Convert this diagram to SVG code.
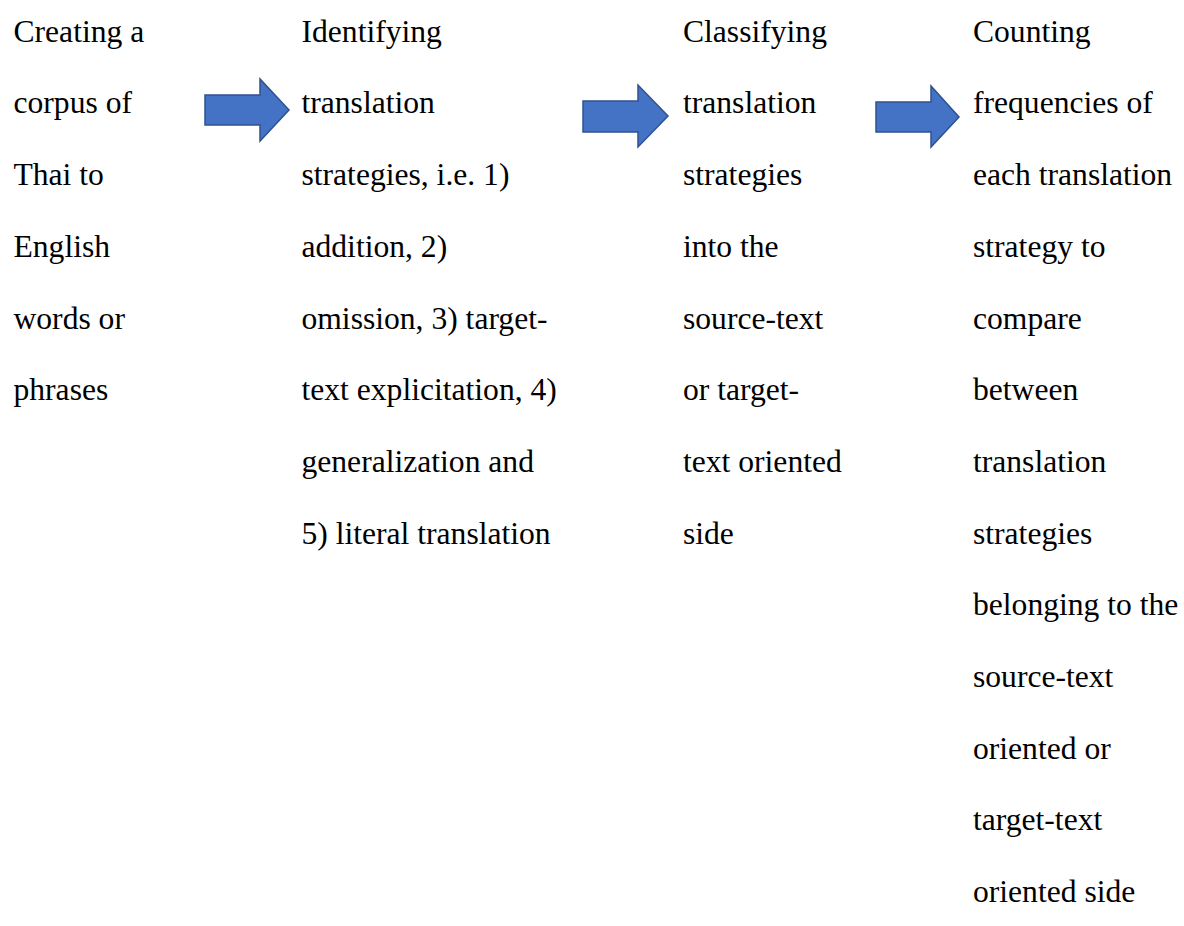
<svg xmlns="http://www.w3.org/2000/svg" width="1184" height="926" viewBox="0 0 1184 926">
<style>
text{font-family:"Liberation Serif","Times New Roman",serif;font-size:31.6px;fill:#000}
.arrow{fill:#4472C4;stroke:#2F528F;stroke-width:1.5;stroke-linejoin:miter}
</style>
<rect width="1184" height="926" fill="#fff"/>
<g id="node1">
<text x="13.5" y="41.7">Creating a</text>
<text x="13.5" y="113.4">corpus of</text>
<text x="13.5" y="185.1">Thai to</text>
<text x="13.5" y="256.8">English</text>
<text x="13.5" y="328.5">words or</text>
<text x="13.5" y="400.2">phrases</text>
</g>
<g id="node2">
<text x="301.5" y="41.7">Identifying</text>
<text x="301.5" y="113.4">translation</text>
<text x="301.5" y="185.1">strategies, i.e. 1)</text>
<text x="301.5" y="256.8">addition, 2)</text>
<text x="301.5" y="328.5">omission, 3) target-</text>
<text x="301.5" y="400.2">text explicitation, 4)</text>
<text x="301.5" y="471.9">generalization and</text>
<text x="301.5" y="543.6">5) literal translation</text>
</g>
<g id="node3">
<text x="683" y="41.7">Classifying</text>
<text x="683" y="113.4">translation</text>
<text x="683" y="185.1">strategies</text>
<text x="683" y="256.8">into the</text>
<text x="683" y="328.5">source-text</text>
<text x="683" y="400.2">or target-</text>
<text x="683" y="471.9">text oriented</text>
<text x="683" y="543.6">side</text>
</g>
<g id="node4">
<text x="973" y="41.7">Counting</text>
<text x="973" y="113.4">frequencies of</text>
<text x="973" y="185.1">each translation</text>
<text x="973" y="256.8">strategy to</text>
<text x="973" y="328.5">compare</text>
<text x="973" y="400.2">between</text>
<text x="973" y="471.9">translation</text>
<text x="973" y="543.6">strategies</text>
<text x="973" y="615.3">belonging to the</text>
<text x="973" y="687">source-text</text>
<text x="973" y="758.7">oriented or</text>
<text x="973" y="830.4">target-text</text>
<text x="973" y="902.1">oriented side</text>
</g>
<g id="connectors">
<polygon class="arrow" points="205,95 260,95 260,79 289,110 260,141 260,125 205,125"/>
<polygon class="arrow" points="583,101 638,101 638,85 668,116 638,147 638,132 583,132"/>
<polygon class="arrow" points="876,102 931,102 931,86 959,117 931,147 931,132 876,132"/>
</g>
</svg>
